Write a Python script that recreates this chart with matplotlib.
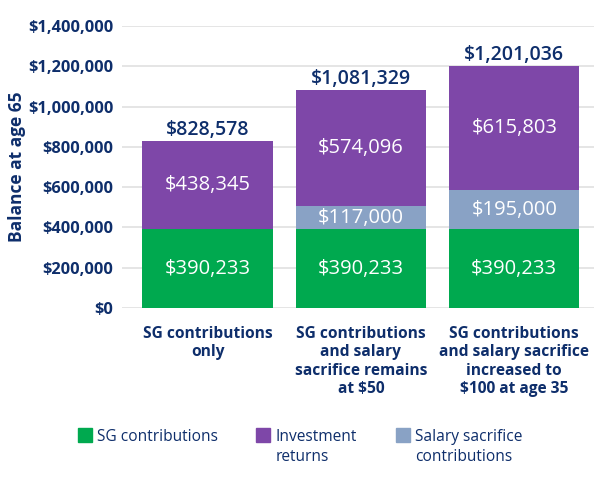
import matplotlib.pyplot as plt
from matplotlib.patches import Rectangle
from matplotlib.ticker import FuncFormatter

plt.rcParams['font.family'] = ['Open Sans', 'DejaVu Sans']

categories = ["SG contributions\nonly",
              "SG contributions\nand salary\nsacrifice remains\nat $50",
              "SG contributions\nand salary sacrifice\nincreased to\n$100 at age 35"]
sg = [390233, 390233, 390233]
salary_sacrifice = [0, 117000, 195000]
investment = [438345, 574096, 615803]
series_names = ["SG contributions", "Investment\nreturns", "Salary sacrifice\ncontributions"]

green = "#00a94f"
purple = "#7e47a8"
blue = "#89a2c5"
navy = "#0e2e6b"

fig = plt.figure(figsize=(6, 4.84), dpi=100)
ax = fig.add_axes([0.203, 0.364, 0.787, 0.582])

x = list(range(len(categories)))
w = 0.85
ax.bar(x, sg, w, color=green, zorder=2)
ax.bar(x, salary_sacrifice, w, bottom=sg, color=blue, zorder=2)
bottom3 = [a + b for a, b in zip(sg, salary_sacrifice)]
ax.bar(x, investment, w, bottom=bottom3, color=purple, zorder=2)

for i in x:
    ax.text(i, sg[i] / 2, f"${sg[i]:,}", ha="center", va="center",
            color="white", fontsize=14.5, zorder=3)
    if salary_sacrifice[i]:
        ax.text(i, sg[i] + salary_sacrifice[i] / 2, f"${salary_sacrifice[i]:,}",
                ha="center", va="center", color="white", fontsize=14.5, zorder=3)
    ax.text(i, bottom3[i] + investment[i] / 2, f"${investment[i]:,}",
            ha="center", va="center", color="white", fontsize=14.5, zorder=3)
    total = bottom3[i] + investment[i]
    ax.text(i, total + 6000, f"${total:,}", ha="center", va="bottom",
            color=navy, fontsize=14, fontweight="semibold", zorder=3)

ax.set_ylim(0, 1400000)
ax.set_xlim(-0.56, 2.52)
ax.set_yticks(range(0, 1400001, 200000))
ax.yaxis.set_major_formatter(FuncFormatter(lambda v, p: f"${int(v):,}"))
ax.grid(axis="y", color="#e0e0e0", linewidth=1.2, zorder=0)
for s in ax.spines.values():
    s.set_visible(False)
ax.tick_params(axis="both", length=0, pad=6)
for t in ax.get_yticklabels():
    t.set_fontsize(11.8)
    t.set_fontweight("bold")
    t.set_color(navy)

ax.set_xticks(x)
ax.set_xticklabels(categories, fontsize=11.2, fontweight="bold", color=navy,
                   linespacing=1.2, va="top")
ax.tick_params(axis="x", pad=13)

ylab = ax.set_ylabel("Balance at age 65", fontsize=12.5, fontweight="bold", color=navy)
ylab.set_va("center")
ax.yaxis.set_label_coords(-0.222, 0.5)

# legend drawn by hand so the swatch lines up with the first text line
legend_colors = [green, purple, blue]
legend_x = [0.130, 0.427, 0.660]
for lx, c, name in zip(legend_x, legend_colors, series_names):
    fig.add_artist(Rectangle((lx, 0.087), 0.0233, 0.029, color=c,
                             transform=fig.transFigure))
    fig.text(lx + 0.032, 0.113, name, fontsize=11.2, color=navy,
             va="top", ha="left", linespacing=1.3)

fig.savefig("out.png")
